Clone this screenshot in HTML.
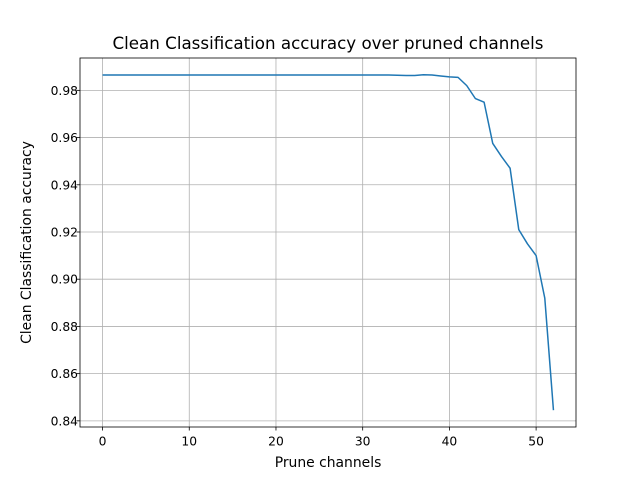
<!DOCTYPE html>
<html><head><meta charset="utf-8"><style>
body{margin:0;background:#fff;}
svg text{font-family:"DejaVu Sans","Liberation Sans",sans-serif;fill:#000;}
</style></head><body>
<svg id="chart" width="640" height="480" viewBox="0 0 640 480" xmlns="http://www.w3.org/2000/svg">
<rect width="640" height="480" fill="#fff"/>
<g id="grid"></g>
<g id="series"></g>
<rect x="80" y="58" width="496" height="369" fill="none" stroke="#000" stroke-width="0.8"/>
<g id="ticks"></g>
<text x="328" y="49" text-anchor="middle" font-size="16.7">Clean Classification accuracy over pruned channels</text>
<text x="328" y="467" text-anchor="middle" font-size="13.9">Prune channels</text>
<text transform="translate(31,242.5) rotate(-90)" text-anchor="middle" font-size="13.9">Clean Classification accuracy</text>
</svg>
<script>
const channels=[0,1,2,3,4,5,6,7,8,9,10,11,12,13,14,15,16,17,18,19,20,21,22,23,24,25,26,27,28,29,30,31,32,33,34,35,36,37,38,39,40,41,42,43,44,45,46,47,48,49,50,51,52];
const accuracy=[0.9865,0.9865,0.9865,0.9865,0.9865,0.9865,0.9865,0.9865,0.9865,0.9865,0.9865,0.9865,0.9865,0.9865,0.9865,0.9865,0.9865,0.9865,0.9865,0.9865,0.9865,0.9865,0.9865,0.9865,0.9865,0.9865,0.9865,0.9865,0.9865,0.9865,0.9865,0.9865,0.9865,0.9865,0.9864,0.9863,0.9863,0.9866,0.9865,0.9861,0.9857,0.9855,0.982,0.9765,0.975,0.9575,0.952,0.947,0.921,0.915,0.910,0.892,0.8445];
const xTicks=[0,10,20,30,40,50];
const yTicks=[0.84,0.86,0.88,0.90,0.92,0.94,0.96,0.98];
const L=80,R=576,T=58,B=427;
const xmin=Math.min(...channels),xmax=Math.max(...channels),xm=(xmax-xmin)*0.05;
const ymin=Math.min(...accuracy),ymax=Math.max(...accuracy),ym=(ymax-ymin)*0.05;
const X=v=>L+(v-(xmin-xm))/((xmax+xm)-(xmin-xm))*(R-L);
const Y=v=>B-(v-(ymin-ym))/((ymax+ym)-(ymin-ym))*(B-T);
const NS='http://www.w3.org/2000/svg';
const grid=document.getElementById('grid'),ticks=document.getElementById('ticks'),series=document.getElementById('series');
function mk(tag,attrs,parent){const e=document.createElementNS(NS,tag);for(const k in attrs)e.setAttribute(k,attrs[k]);parent.appendChild(e);return e;}
xTicks.forEach(t=>{const x=X(t);
 const g=mk('line',{x1:x,x2:x,y1:T,y2:B,stroke:'#b0b0b0','stroke-width':0.8},grid);
 
 
 mk('line',{x1:x,x2:x,y1:B,y2:B+3.5,stroke:'#000','stroke-width':0.8},ticks);
 const tx=mk('text',{x:x,y:B+18.5,'text-anchor':'middle','font-size':12.3},ticks);tx.textContent=t;
 
 
});
yTicks.forEach(t=>{const y=Y(t);
 const g=mk('line',{x1:L,x2:R,y1:y,y2:y,stroke:'#b0b0b0','stroke-width':0.8},grid);
 
 
 mk('line',{x1:L-3.5,x2:L,y1:y,y2:y,stroke:'#000','stroke-width':0.8},ticks);
 const tx=mk('text',{x:L-2,y:y+4.5,'text-anchor':'end','font-size':12.3},ticks);tx.textContent=t.toFixed(2);
 
 
});
const p=mk('polyline',{points:channels.map((c,i)=>X(c)+','+Y(accuracy[i])).join(' '),fill:'none',stroke:'#1f77b4','stroke-width':1.5,'stroke-linejoin':'round'},series);


</script>
</body></html>
